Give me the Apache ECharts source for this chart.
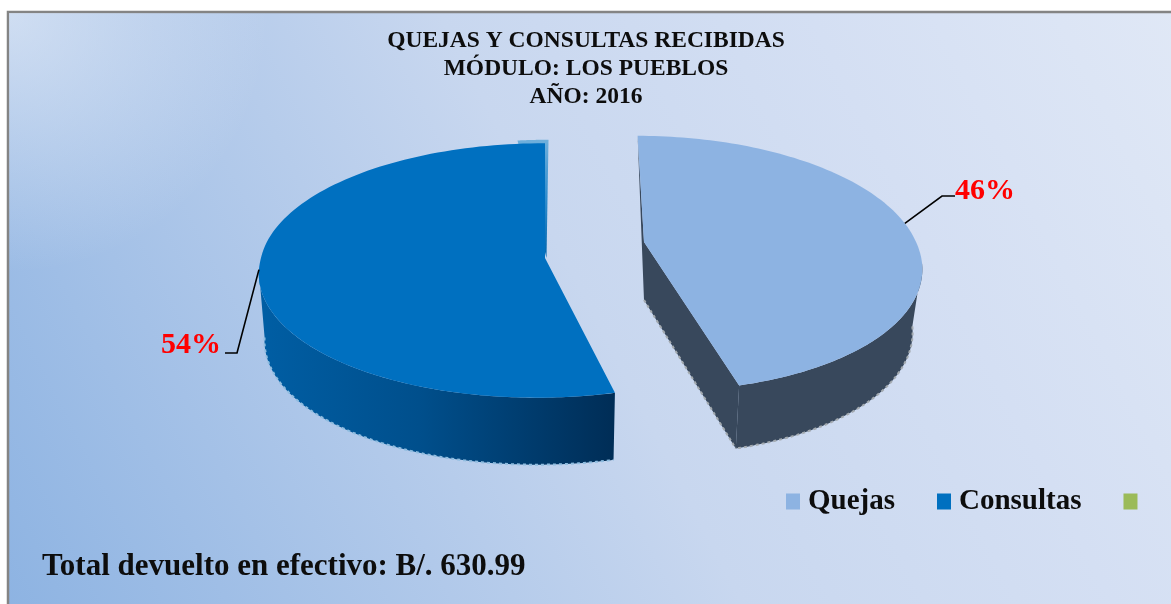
<!DOCTYPE html>
<html>
<head>
<meta charset="utf-8">
<title>Quejas y consultas</title>
<script src="https://cdn.jsdelivr.net/npm/echarts@6/dist/echarts.min.js"></script>
<style>
  html, body { margin: 0; padding: 0; background: #fff; }
  #chart { width: 1171px; height: 604px; }
</style>
</head>
<body>
<div id="chart"></div>
<script>
const categories = ['Quejas', 'Consultas', ' '];
const values = [46, 54, 0];
const titleLines = ['QUEJAS Y CONSULTAS RECIBIDAS', 'MÓDULO: LOS PUEBLOS', 'AÑO: 2016'];
const footerText = 'Total devuelto en efectivo: B/. 630.99';

const serifFont = '"Liberation Serif", "Times New Roman", serif';
const colors = ['#8db3e2', '#0070c0', '#9bbb59'];
const total = values.reduce((a, b) => a + b, 0);

// the 3D look: each slice has its own projected disc, dir is the way it sweeps from 12 o'clock
const discs = [
  {
    dir: 1, cx: 644, cy: 242, r: 272, rv: 124, persp: 0.168, shearUp: 0.06, shearDown: 0.1,
    depth: 63, baseScale: 0.965, fringe: '#a3aab0',
    side: ['#38485c', '#38485c'], label: { x: 985, y: 191, elbow: [942, 196], end: [955, 196] }
  },
  {
    dir: -1, cx: 545, cy: 258, r: 284, rv: 126, persp: 0.098, shearUp: 0, shearDown: -0.06,
    depth: 67, baseScale: 0.98, fringe: '#8fbde0',
    side: ['#005ea4', '#002d56'], label: { x: 191, y: 345, elbow: [237, 353], end: [225, 353] }
  }
];

function project(d, angle) {
  const w = 1 + d.persp * Math.cos(angle);
  const y = -d.rv * Math.cos(angle) / w;
  const x = d.r * Math.sin(angle) / w * d.dir + y * (y < 0 ? d.shearUp : d.shearDown);
  return [d.cx + x, d.cy + y];
}

function toBase(d, p) {
  return [d.cx + (p[0] - d.cx) * d.baseScale, p[1] + d.depth];
}

function arcPoints(d, from, to) {
  const pts = [];
  const steps = 120;
  for (let i = 0; i <= steps; i++) {
    pts.push(project(d, from + (to - from) * i / steps));
  }
  return pts;
}

function renderSlice(index) {
  return function () {
    const value = values[index];
    const d = discs[index];
    if (!value || !d) return { type: 'group', children: [] };
    const sweep = value / total * Math.PI * 2;
    const apex = [d.cx, d.cy];
    const top = arcPoints(d, 0, sweep);
    // wall starts at the widest point of the disc so its silhouette closes
    const sideArc = arcPoints(d, Math.acos(-d.persp), sweep);
    const baseArc = sideArc.map((p) => toBase(d, p));
    const endTop = top[top.length - 1];
    const children = [];

    // outer wall
    children.push({
      type: 'polygon',
      shape: { points: sideArc.concat(baseArc.slice().reverse()) },
      style: {
        fill: new echarts.graphic.LinearGradient(0, 0, 1, 0, [
          { offset: 0, color: d.side[0] },
          { offset: 0.45, color: d.side[0] === d.side[1] ? d.side[1] : '#004f8c' },
          { offset: 1, color: d.side[1] }
        ])
      }
    });
    children.push({
      type: 'polyline',
      shape: { points: baseArc },
      style: { stroke: d.fringe, lineWidth: 2, lineDash: [3, 3], fill: null }
    });

    if (d.dir > 0) {
      // cut face seen on the right hand slice
      const apexBase = [apex[0], apex[1] + d.depth * 0.92];
      children.push({
        type: 'polygon',
        shape: { points: [top[0], apex, endTop, toBase(d, endTop), apexBase] },
        style: { fill: d.side[0] }
      });
      children.push({
        type: 'polyline',
        shape: { points: [apexBase, toBase(d, endTop)] },
        style: { stroke: d.fringe, lineWidth: 2, lineDash: [3, 3], fill: null }
      });
    } else {
      // thin back edge peeking out behind the left hand slice
      const back = arcPoints(d, 0, 0.12).map((p) => [p[0] + 3.5, p[1] - 3.5]);
      children.push({
        type: 'polygon',
        shape: { points: back.concat([[apex[0] + 1.5, apex[1]]]) },
        style: {
          fill: new echarts.graphic.LinearGradient(0, 0, 0, 1, [
            { offset: 0, color: '#70b0dc' },
            { offset: 0.5, color: '#2f8ccc' },
            { offset: 1, color: '#0065ad' }
          ])
        }
      });
    }

    // top face
    children.push({
      type: 'polygon',
      shape: { points: top.concat([apex]) },
      style: { fill: colors[index] }
    });

    // leader line and percent label
    const mid = project(d, sweep * 0.49);
    children.push({
      type: 'polyline',
      shape: { points: [mid, d.label.elbow, d.label.end] },
      style: { stroke: '#000', lineWidth: 1.6, fill: null }
    });
    children.push({
      type: 'text',
      x: d.label.x,
      y: d.label.y,
      style: {
        text: Math.round(value / total * 100) + '%',
        fill: '#ff0000',
        font: 'bold 30px ' + serifFont,
        align: 'center',
        verticalAlign: 'middle'
      }
    });
    return { type: 'group', children: children };
  };
}

const chart = echarts.init(document.getElementById('chart'), null, { renderer: 'canvas' });

chart.setOption({
  animation: false,
  backgroundColor: '#ffffff',
  title: [
    {
      text: titleLines.join('\n'),
      left: 581,
      top: 22,
      textAlign: 'center',
      textStyle: { fontFamily: serifFont, fontWeight: 'bold', fontSize: 23.5, lineHeight: 28, color: '#0d0d0d' }
    },
    {
      text: footerText,
      left: 37,
      top: 546,
      textStyle: { fontFamily: serifFont, fontWeight: 'bold', fontSize: 31, color: '#0d0d0d' }
    }
  ],
  legend: {
    data: categories,
    left: 781,
    top: 482,
    width: 390,
    itemWidth: 14,
    itemHeight: 16,
    itemGap: 42,
    icon: 'rect',
    selectedMode: false,
    textStyle: { fontFamily: serifFont, fontWeight: 'bold', fontSize: 29, color: '#0d0d0d', padding: [7, 0, 0, 3] }
  },
  graphic: [
    {
      type: 'rect',
      z: -10,
      shape: { x: 8, y: 12, width: 1170, height: 600 },
      style: {
        fill: new echarts.graphic.LinearGradient(0, 1, 1, 0, [
          { offset: 0, color: '#8db3e2' },
          { offset: 0.5, color: '#c8d7ef' },
          { offset: 0.75, color: '#d4dff3' },
          { offset: 1, color: '#e0e8f6' }
        ]),
        stroke: '#848484',
        lineWidth: 2.5
      }
    },
    {
      type: 'rect',
      z: -9,
      shape: { x: 9, y: 13, width: 400, height: 260 },
      style: {
        fill: new echarts.graphic.RadialGradient(0, 0, 1, [
          { offset: 0, color: 'rgba(235,240,249,0.6)' },
          { offset: 1, color: 'rgba(235,240,249,0)' }
        ])
      }
    }
  ],
  series: categories.map((name, i) => ({
    type: 'custom',
    name: name,
    coordinateSystem: 'none',
    silent: true,
    z: 3,
    itemStyle: { color: colors[i] },
    renderItem: renderSlice(i),
    data: [values[i]]
  }))
});
</script>
</body>
</html>
